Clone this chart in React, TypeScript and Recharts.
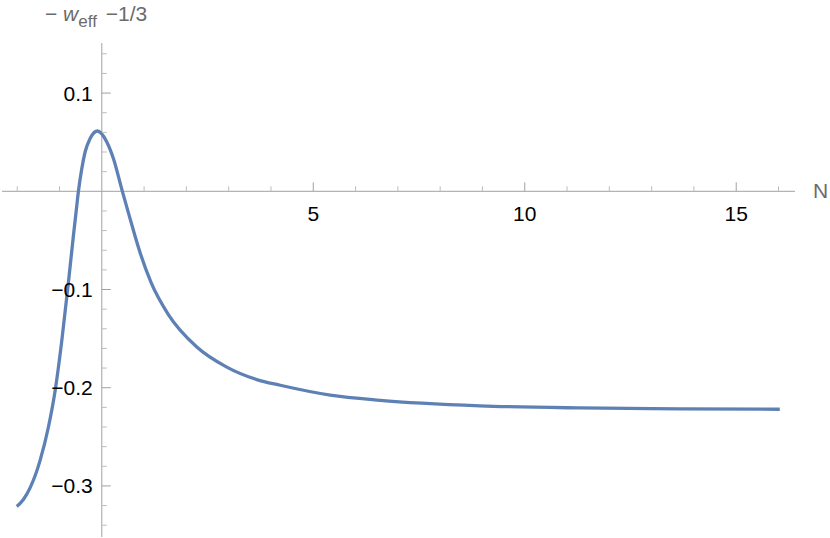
import { LineChart, Line, XAxis, YAxis, ReferenceLine, ReferenceDot } from 'recharts'

const nValues = [
  -2.01, -1.85, -1.696, -1.459, -1.262, -1.104, -0.946, -0.79, -0.671, -0.608, -0.553, -0.473,
  -0.395, -0.277, -0.104, 0.118, 0.274, 0.473, 0.629, 0.787, 0.865, 1.166, 1.574, 2.246, 2.955,
  3.664, 4.22, 5.4, 6.58, 8.94, 11.3, 13.67, 16.03,
]
const wValues = [
  -0.321, -0.3135, -0.302, -0.274, -0.24, -0.203, -0.152, -0.093, -0.045, -0.021, 0, 0.0232,
  0.04, 0.0537, 0.0614, 0.0503, 0.0334, 0.002, -0.022, -0.0457, -0.057, -0.093, -0.1255, -0.1585,
  -0.179, -0.1917, -0.1975, -0.2075, -0.2128, -0.2184, -0.2206, -0.2215, -0.2219,
]

const xMajorTicks = [5, 10, 15]
const xMinorTicks = [-2, -1, 1, 2, 3, 4, 6, 7, 8, 9, 11, 12, 13, 14, 16]
const yMajorTicks = [0.1, -0.1, -0.2, -0.3]
const yMinorTicks = [0.14, 0.12, 0.08, 0.06, 0.04, 0.02, -0.02, -0.04, -0.06, -0.08, -0.12, -0.14, -0.16, -0.18, -0.22, -0.24, -0.26, -0.28, -0.32, -0.34]

const X_DOMAIN: [number, number] = [-2.36, 16.39]
const Y_DOMAIN: [number, number] = [-0.352, 0.151]

const FONT = '"Liberation Sans", Arial, sans-serif'
const AXIS = '#a2a2a2'
const LINE = '#5e81b5'

const data = nValues.map((n, i) => ({ n, w: wValues[i] }))

const fmtY = (v: number) => (v < 0 ? `\u2212${Math.abs(v)}` : `${v}`)

export default function App() {
  return (
    <div style={{ position: 'absolute', left: 0, top: 0, width: 830, height: 538, background: '#fff', fontFamily: FONT }}>
      <LineChart width={830} height={538} data={data} margin={{ top: 43, right: 35, bottom: 1, left: 2 }}>
        <XAxis type="number" dataKey="n" domain={X_DOMAIN} hide allowDataOverflow />
        <YAxis type="number" domain={Y_DOMAIN} hide allowDataOverflow />

        {/* axes crossing at the origin */}
        <ReferenceLine y={0} stroke={AXIS} strokeWidth={1} />
        <ReferenceLine x={0} stroke={AXIS} strokeWidth={1} />

        {xMinorTicks.map((t) => (
          <ReferenceDot
            key={`xm${t}`}
            x={t}
            y={0}
            shape={(p: any) => <line x1={p.cx} x2={p.cx} y1={p.cy} y2={p.cy - 5} stroke="#bdbdbd" />}
          />
        ))}
        {xMajorTicks.map((t) => (
          <ReferenceDot
            key={`xM${t}`}
            x={t}
            y={0}
            shape={(p: any) => (
              <g>
                <line x1={p.cx} x2={p.cx} y1={p.cy} y2={p.cy - 9} stroke="#a2a2a2" />
                <text x={p.cx} y={p.cy + 30} textAnchor="middle" fontSize={21} fontFamily={FONT} fill="#000">
                  {t}
                </text>
              </g>
            )}
          />
        ))}
        {yMinorTicks.map((t) => (
          <ReferenceDot
            key={`ym${t}`}
            x={0}
            y={t}
            shape={(p: any) => <line x1={p.cx} x2={p.cx + 5} y1={p.cy} y2={p.cy} stroke="#bdbdbd" />}
          />
        ))}
        {yMajorTicks.map((t) => (
          <ReferenceDot
            key={`yM${t}`}
            x={0}
            y={t}
            shape={(p: any) => (
              <g>
                <line x1={p.cx} x2={p.cx + 9} y1={p.cy} y2={p.cy} stroke="#a2a2a2" />
                <text x={p.cx - 9} y={p.cy} dy="0.36em" textAnchor="end" fontSize={21} fontFamily={FONT} fill="#000">
                  {fmtY(t)}
                </text>
              </g>
            )}
          />
        ))}

        <Line type="monotone" dataKey="w" stroke={LINE} strokeWidth={3.3} dot={false} isAnimationActive={false} />
      </LineChart>

      {/* axis labels */}
      <svg width={830} height={538} style={{ position: 'absolute', left: 0, top: 0, pointerEvents: 'none' }}>
        <text x={45} y={21} fontSize={21} fontFamily={FONT} fill="#6b6b6b">
          {'\u2212 '}
          <tspan fontStyle="italic">w</tspan>
          <tspan fontSize={17} dy={6}>eff</tspan>
          <tspan dy={-6} dx={3}>{' \u22121/3'}</tspan>
        </text>
        <text x={813} y={198} fontSize={21} fontFamily={FONT} fill="#6b6b6b">
          N
        </text>
      </svg>
    </div>
  )
}
